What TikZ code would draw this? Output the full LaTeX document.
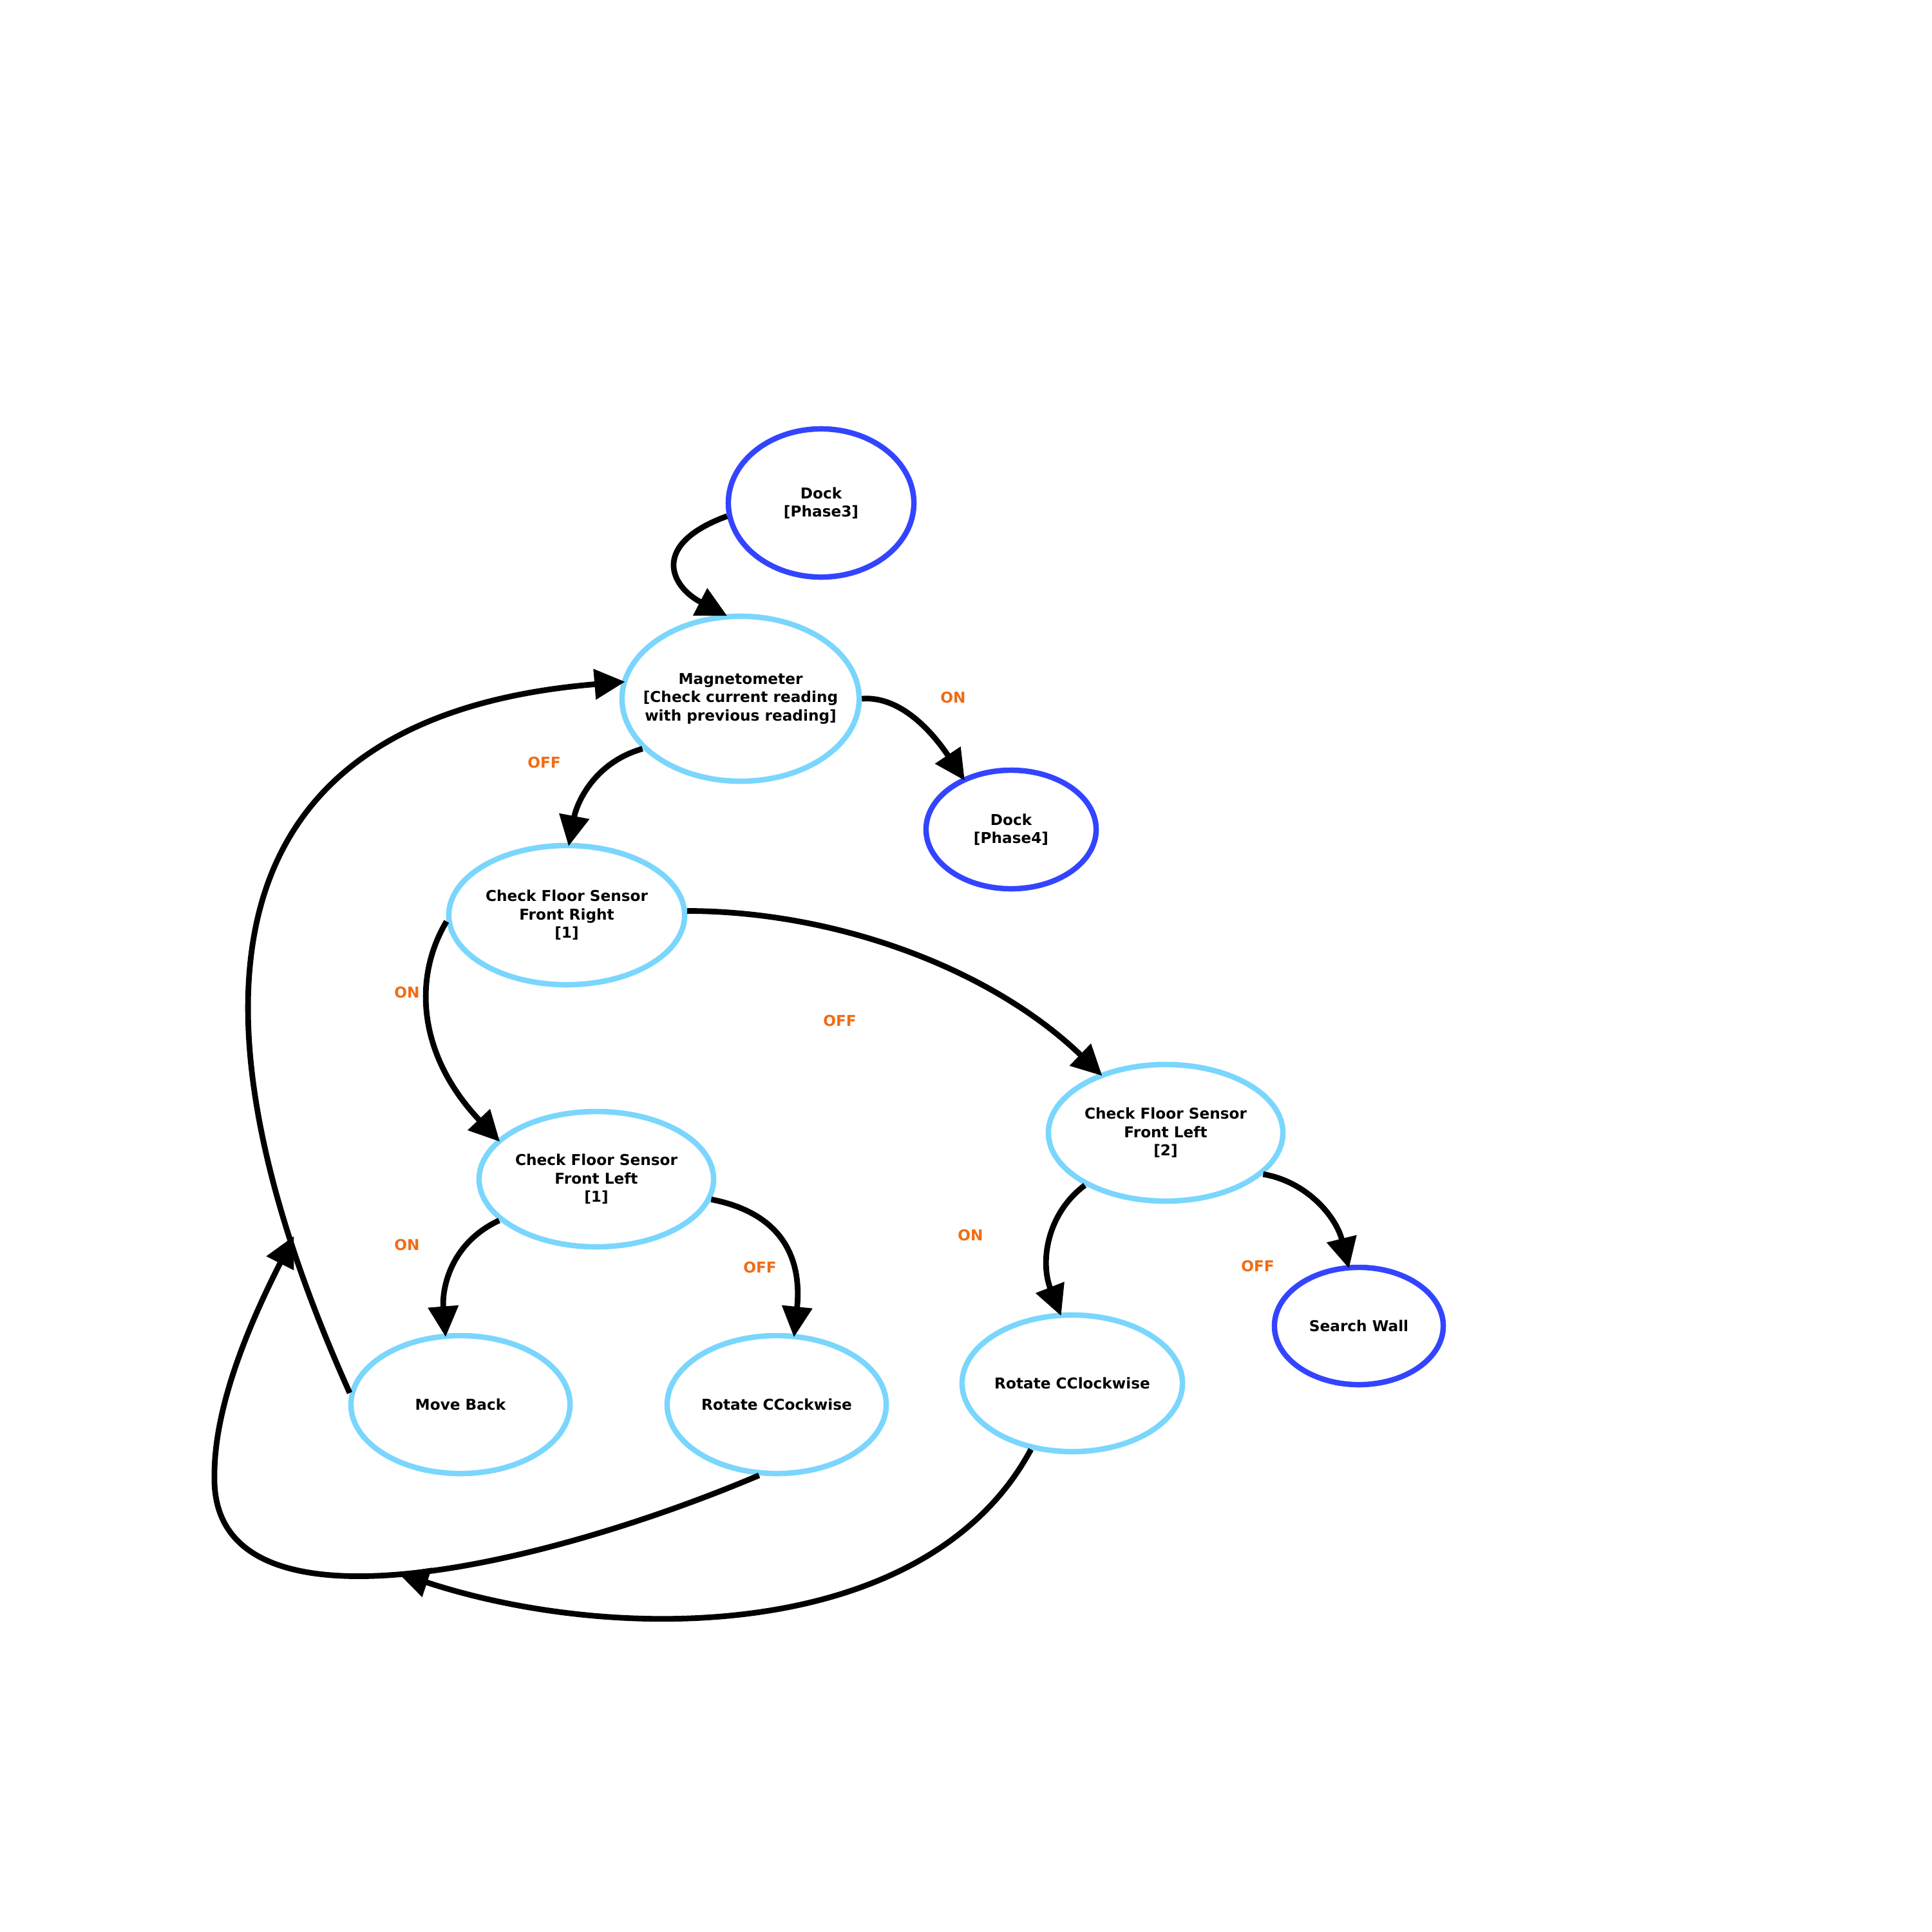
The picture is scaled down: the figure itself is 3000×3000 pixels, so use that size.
\documentclass[tikz,border=0pt]{standalone}
\usepackage{fontspec}
\setmainfont{DejaVu Sans}
\usetikzlibrary{shapes.geometric,arrows.meta}
\definecolor{dblue}{RGB}{51,68,255}
\definecolor{lblue}{RGB}{122,214,253}
\definecolor{lorange}{RGB}{240,108,20}
\begin{document}
\begin{tikzpicture}[x=0.01cm,y=-0.01cm,
  st/.style={ellipse, draw, line width=2.4pt, fill=white, inner sep=0pt},
  dk/.style={st, draw=dblue},
  lt/.style={st, draw=lblue},
  txt/.style={font=\fontsize{6.6pt}{8.1pt}\selectfont\bfseries, align=center, inner sep=0pt},
  lab/.style={font=\fontsize{6.6pt}{8.1pt}\selectfont\bfseries, text=lorange, inner sep=0pt},
  edge/.style={line width=2.5pt, shorten >=-1.5pt, -{Triangle[length=13.5pt,width=13pt]}}]
\fill[white] (0,0) rectangle (3000,3000);
\useasboundingbox (0,0) rectangle (3000,3000);

% states
\node[dk, minimum width=2.88cm, minimum height=2.30cm] (d3) at (1275,781) {};
\node[lt, minimum width=3.68cm, minimum height=2.56cm] (mag) at (1150,1085) {};
\node[dk, minimum width=2.64cm, minimum height=1.84cm] (d4) at (1570,1288) {};
\node[lt, minimum width=3.66cm, minimum height=2.16cm] (fr) at (880,1421) {};
\node[lt, minimum width=3.64cm, minimum height=2.10cm] (fl1) at (926,1831) {};
\node[lt, minimum width=3.64cm, minimum height=2.12cm] (fl2) at (1810,1759) {};
\node[dk, minimum width=2.62cm, minimum height=1.82cm] (sw) at (2110,2059) {};
\node[lt, minimum width=3.40cm, minimum height=2.14cm] (mb) at (715,2181) {};
\node[lt, minimum width=3.40cm, minimum height=2.14cm] (rcc) at (1206,2181) {};
\node[lt, minimum width=3.42cm, minimum height=2.12cm] (rcl) at (1665,2148) {};

% state texts
\node[txt] (d3t) at (d3) {Dock\\{[}Phase3{]}};
\node[txt] (magt) at (mag) {Magnetometer\\{[}Check current reading\\with previous reading{]}};
\node[txt] (d4t) at (d4) {Dock\\{[}Phase4{]}};
\node[txt] (frt) at (fr) {Check Floor Sensor\\Front Right\\{[}1{]}};
\node[txt] (fl1t) at (fl1) {Check Floor Sensor\\Front Left\\{[}1{]}};
\node[txt] (fl2t) at (fl2) {Check Floor Sensor\\Front Left\\{[}2{]}};
\node[txt] (swt) at (sw) {Search Wall};
\node[txt] (mbt) at (mb) {Move Back};
\node[txt] (rcct) at (rcc) {Rotate CCockwise};
\node[txt] (rclt) at (rcl) {Rotate CClockwise};

% free ends
\coordinate (j1) at (454,1924);
\coordinate (j2) at (623,2444);

% connectors
\draw[edge] (d3.188) .. controls (1010,845) and (1040,910) .. (mag.101);
\draw[edge] (mag.0) .. controls (1400,1080) and (1450,1140) .. (d4.133);
\draw[edge] (mag.207) .. controls (920,1185) and (895,1250) .. (fr.88);
\draw[edge] (fr.2) .. controls (1300,1415) and (1540,1505) .. (fl2.138);
\draw[edge] (fr.183) .. controls (640,1520) and (650,1640) .. (fl1.158);
\draw[edge] (fl1.203) .. controls (700,1930) and (686,2000) .. (mb.102);
\draw[edge] (fl1.350) .. controls (1220,1885) and (1245,1960) .. (rcc.76);
\draw[edge] (fl2.213) .. controls (1625,1885) and (1615,1960) .. (rcl.100);
\draw[edge] (fl2.337) .. controls (2030,1835) and (2075,1890) .. (sw.100);
\draw[edge] (mb.174) .. controls (290,1600) and (290,1115) .. (mag.172);
\draw[edge] (rcc.256) .. controls (850,2430) and (325,2560) .. (333,2290)
            .. controls (333,2180) and (390,2050) .. (j1);
\draw[edge] (rcl.238) .. controls (1440,2550) and (960,2555) .. (j2);

% connector labels
\node[lab] (l1) at (1480,1083) {ON};
\node[lab] (l2) at (845,1184) {OFF};
\node[lab] (l3) at (632,1541) {ON};
\node[lab] (l4) at (1304,1585) {OFF};
\node[lab] (l5) at (632,1933) {ON};
\node[lab] (l6) at (1180,1968) {OFF};
\node[lab] (l7) at (1507,1918) {ON};
\node[lab] (l8) at (1953,1966) {OFF};
\end{tikzpicture}
\end{document}
